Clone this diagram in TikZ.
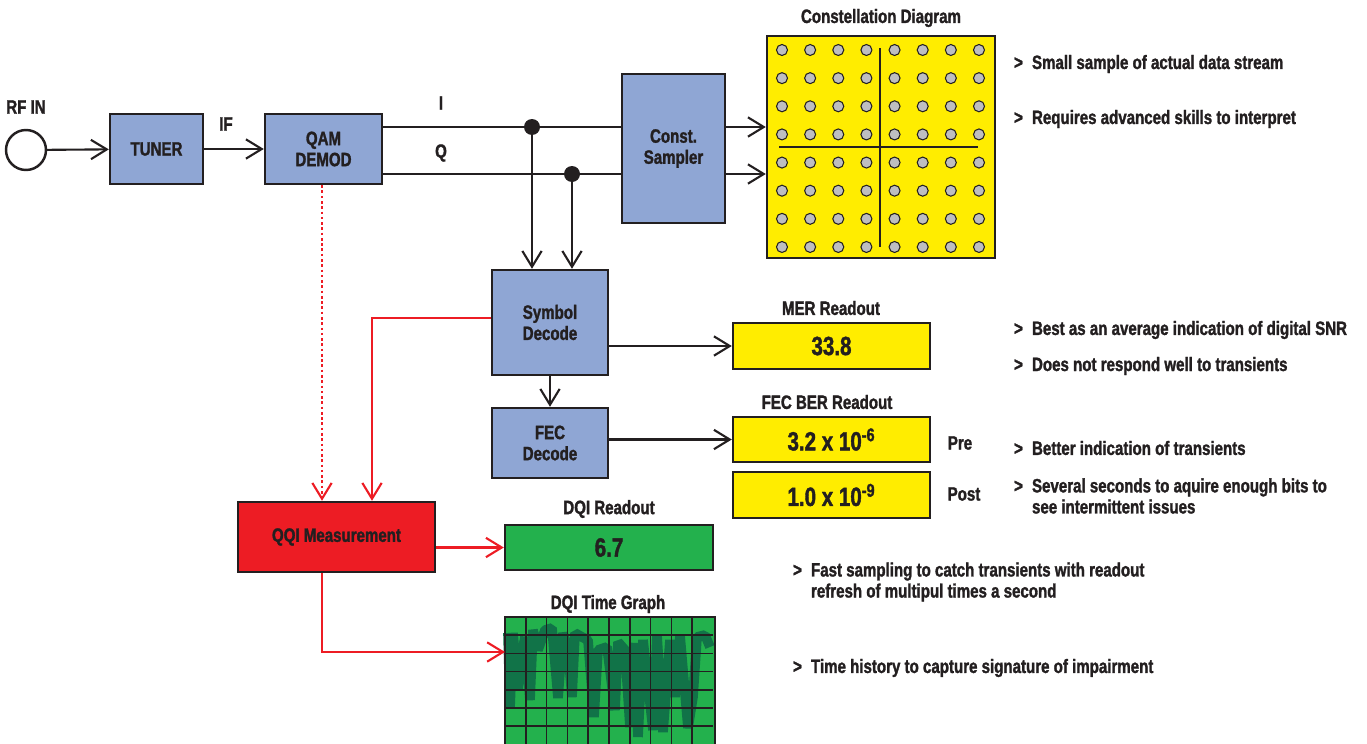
\documentclass[tikz,border=0pt]{standalone}
\usepackage{fontspec}
\setmainfont[FakeStretch=0.78,BoldFeatures={FakeBold=1.5}]{Liberation Sans}
\usetikzlibrary{arrows.meta,positioning}

\definecolor{ink}{RGB}{35,31,32}
\definecolor{boxblue}{RGB}{143,166,212}
\definecolor{ryellow}{RGB}{255,237,0}
\definecolor{qred}{RGB}{237,28,36}
\definecolor{dgreen}{RGB}{35,177,77}
\definecolor{wavegreen}{RGB}{17,115,72}
\definecolor{dotgray}{RGB}{190,190,192}

\newcommand{\lblfont}{\bfseries\fontsize{11}{12}\selectfont}
\newcommand{\valfont}{\bfseries\fontsize{15}{16}\selectfont}
\newcommand{\mk}{\makebox[0.36cm][l]{>}}

\tikzset{
  blk/.style={draw=ink,line width=1.4pt,fill=boxblue,align=center,inner sep=0pt},
  readout/.style={draw=ink,line width=1.4pt,fill=ryellow,font=\valfont,inner sep=0pt,
    minimum width=3.94cm,minimum height=0.91cm},
  port/.style={circle,draw=ink,line width=1.4pt,minimum size=0.8cm,inner sep=0pt},
  jdot/.style={circle,fill=ink,minimum size=0.32cm,inner sep=0pt},
  cdot/.style={circle,draw=ink,line width=0.6pt,fill=dotgray,minimum size=0.22cm,inner sep=0pt},
  note/.style={anchor=west,align=left,inner sep=0pt},
  redline/.style={qred,line width=1.2pt}
}

\begin{document}
\begin{tikzpicture}[x=0.02cm,y=-0.02cm,>={Straight Barb[length=9pt,width=11pt]},
  line width=1.2pt,draw=ink,every node/.style={font=\lblfont,text=ink}]
\useasboundingbox (0,0) rectangle (1367,744);

%front end
\node[port] (rfin) at (26,150) {};
\node (rflbl) at (26,107) {RF IN};
\node[blk,minimum width=1.86cm,minimum height=1.4cm] (tuner) at (156.5,149) {TUNER};
\node[blk,minimum width=2.34cm,minimum height=1.4cm] (demod) at (323.5,149) {QAM\\DEMOD};
\node (iflbl) at (226,124) {IF};
\draw[->] (rfin) -- (tuner);
\draw[->] (tuner) -- (demod);

%I and Q
\node[blk,minimum width=2.06cm,minimum height=2.98cm] (sampler) at (673.5,148.5) {Const.\\Sampler};
\node[jdot] (iJ) at (532,127) {};
\node[jdot] (qJ) at (572,174) {};
\node (ilbl) at (441,103) {I};
\node (qlbl) at (441,153) {Q};
\draw (demod.east |- iJ) -- (sampler.west |- iJ);
\draw (demod.east |- qJ) -- (sampler.west |- qJ);

%constellation
\node[draw=ink,line width=1.4pt,fill=ryellow,minimum width=4.56cm,minimum height=4.44cm] (const) at (881,147) {};
\node (ctitle) at (881,18) {Constellation Diagram};
\foreach \i in {0,...,7}
  \foreach \j in {0,...,7}
    \node[cdot] (c\i\j) at (782+28.14*\i,50+28.14*\j) {};
\draw[line width=1.4pt] (880,48) -- (880,247);
\draw[line width=1.4pt] (779,147) -- (978,147);
\draw[->] (sampler.east |- iJ) -- (const.west |- iJ);
\draw[->] (sampler.east |- qJ) -- (const.west |- qJ);

%decoders
\node[blk,minimum width=2.32cm,minimum height=2.1cm] (symbol) at (550,322.5) {Symbol\\Decode};
\node[blk,minimum width=2.32cm,minimum height=1.4cm] (fec) at (550,443) {FEC\\Decode};
\draw[->] (iJ.center) -- (iJ |- symbol.north);
\draw[->] (qJ.center) -- (qJ |- symbol.north);
\draw[->] (symbol) -- (fec);

%readouts
\node[readout] (mer) at (831.5,346) {33.8};
\node (mertitle) at (831,308) {MER Readout};
\node[readout] (pre) at (831.5,439.5) {3.2 x 10\textsuperscript{-6}};
\node (bertitle) at (827,402) {FEC BER Readout};
\node[readout] (post) at (831.5,495) {1.0 x 10\textsuperscript{-9}};
\node (prelbl) at (960,443) {Pre};
\node (postlbl) at (964,494) {Post};
\draw[->] (symbol.east |- mer) -- (mer);
\draw[->] (fec.east |- pre) -- (pre);

%QQI
\node[blk,fill=qred,minimum width=3.94cm,minimum height=1.4cm] (qqi) at (336.5,537) {QQI Measurement};
\node[readout,fill=dgreen,minimum width=4.16cm] (dqi) at (609,547.5) {6.7};
\node (dqititle) at (609,509) {DQI Readout};
\node[fill=dgreen,minimum width=4.16cm,minimum height=2.6cm,anchor=north west,inner sep=0pt] (graph) at (505,617) {};
\node (graphtitle) at (608,604) {DQI Time Graph};
\draw[wavegreen,line width=5.5pt,line join=bevel]
  (508,633) -- (510,708) -- (513,633) -- (518,690) -- (522,653) -- (525,637) -- (530,700)
  -- (533,630) -- (538,650) -- (545,630) -- (552,628) -- (558,698) -- (563,633) -- (568,650)
  -- (572,697) -- (575,633) -- (582,637) -- (588,640) -- (594,717) -- (598,650) -- (607,647)
  -- (615,710) -- (618,642) -- (625,650) -- (630,727) -- (635,643) -- (638,737) -- (643,640)
  -- (653,730) -- (657,635) -- (663,732) -- (670,640) -- (675,697) -- (680,635) -- (688,728)
  -- (693,697) -- (697,637) -- (705,635) -- (710,647);
\foreach \k in {1,...,9}
  \draw[line width=1pt] (505+20.8*\k,617) -- (505+20.8*\k,747);
\foreach \k in {1,...,7}
  \draw[line width=1pt] (505,617+18.2*\k) -- (713,617+18.2*\k);
\draw[line width=1.4pt] (graph.south west) -- (graph.north west) -- (graph.north east) -- (graph.south east);

\coordinate (redK) at (372,318);
\coordinate (redG) at (322,652);
\draw[->,redline,dash pattern=on 1.5pt off 1.5pt] (demod.south -| redG) -- (redG |- qqi.north);
\draw[->,redline] (symbol.west |- redK) -- (redK) -- (redK |- qqi.north);
\draw[->,redline] (qqi.east |- dqi) -- (dqi);
\draw[->,redline] (redG |- qqi.south) -- (redG) -- (graph.west |- redG);

%notes
\node[note] (n1) at (1013,64) {\mk Small sample of actual data stream};
\node[note] (n2) at (1013,119) {\mk Requires advanced skills to interpret};
\node[note] (n3) at (1013,330) {\mk Best as an average indication of digital SNR};
\node[note] (n4) at (1013,366) {\mk Does not respond well to transients};
\node[note] (n5) at (1013,448) {\mk Better indication of transients};
\node[note] (n6) at (1013,496) {\mk Several seconds to aquire enough bits to\\\hspace*{0.36cm}see intermittent issues};
\node[note] (n7) at (792,582) {\mk Fast sampling to catch transients with readout\\\hspace*{0.36cm}refresh of multipul times a second};
\node[note] (n8) at (792,668) {\mk Time history to capture signature of impairment};
\end{tikzpicture}
\end{document}
